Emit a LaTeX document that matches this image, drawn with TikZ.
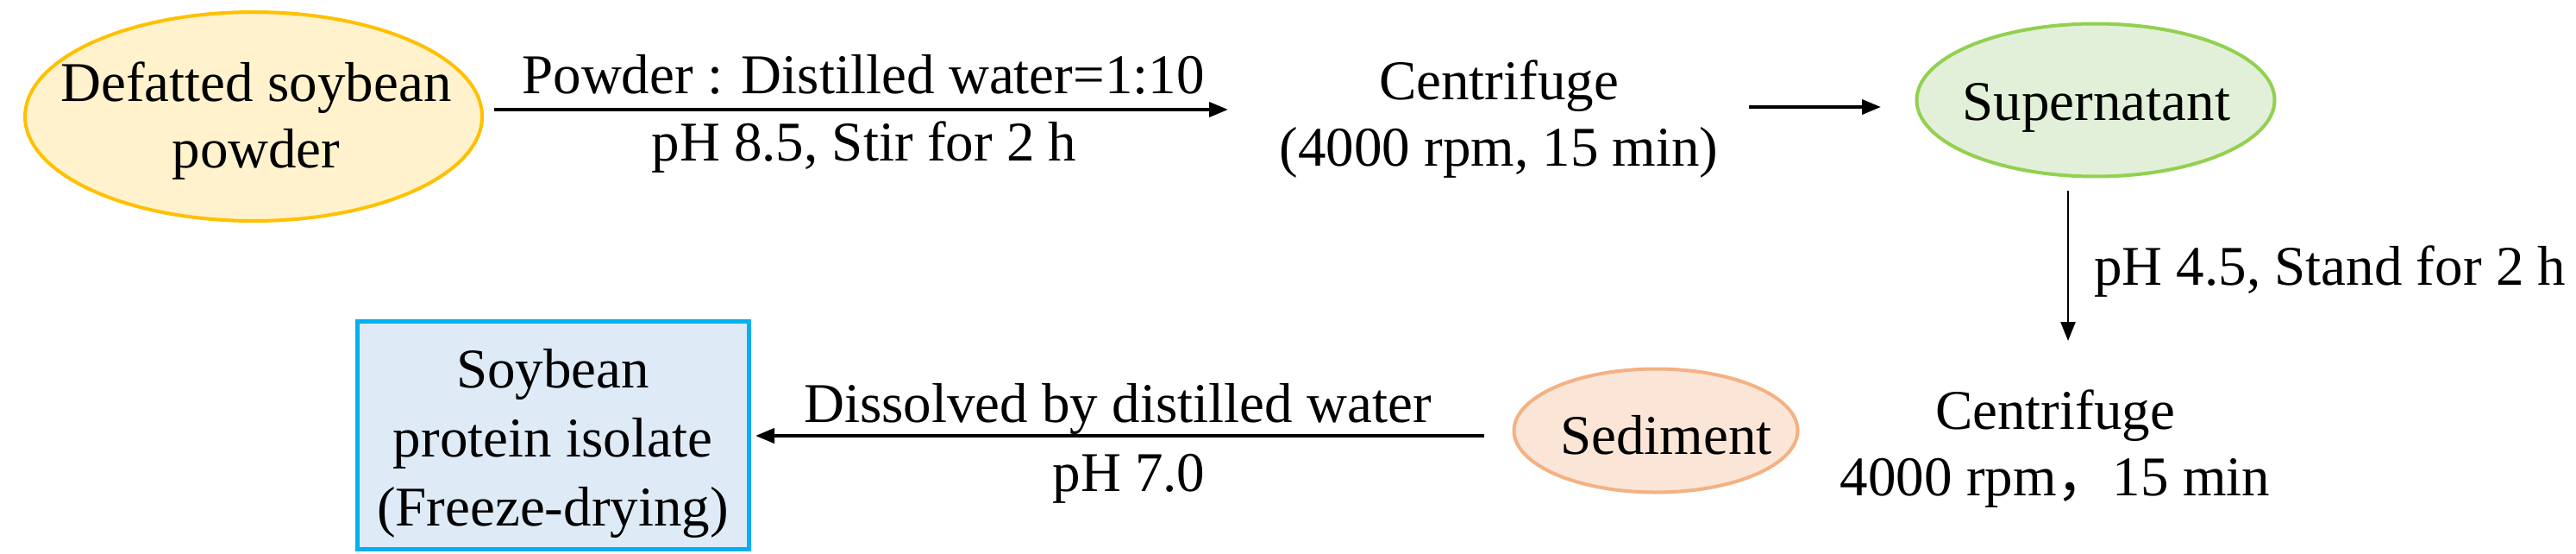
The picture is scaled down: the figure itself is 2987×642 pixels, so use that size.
\documentclass[tikz,border=0pt]{standalone}
\usepackage{fontspec}
\setmainfont{Liberation Serif}
\newfontfamily\cjkfont{Noto Sans CJK SC}
\usetikzlibrary{shapes.geometric,arrows.meta}
\definecolor{yfill}{HTML}{FFF2CC}
\definecolor{ydraw}{HTML}{FFC000}
\definecolor{gfill}{HTML}{E2F0D9}
\definecolor{gdraw}{HTML}{92D050}
\definecolor{ofill}{HTML}{FBE5D6}
\definecolor{odraw}{HTML}{F4B183}
\definecolor{bfill}{HTML}{DEEBF7}
\definecolor{bdraw}{HTML}{00B0F0}
\tikzset{
  oval/.style={ellipse, line width=4pt, inner sep=0pt},
  plain/.style={align=center, inner sep=0pt},
  lbl/.style={anchor=base, inner sep=0pt},
  arr/.style={line width=4pt, -{Triangle[length=22pt,width=17pt]}},
  thinarr/.style={line width=2.5pt, -{Triangle[length=22pt,width=17pt]}}
}
\begin{document}
\begin{tikzpicture}[x=1pt,y=-1pt,font=\fontsize{65}{77}\selectfont]
\useasboundingbox (0,0) rectangle (2987,642);
% shapes
\node[oval, draw=ydraw, fill=yfill, minimum width=530pt, minimum height=242pt] (def) at (294,135) {};
\node[plain] (deft) at (297,140) {Defatted soybean\\powder};
\node[plain] (cf1) at (1738,138) {Centrifuge\\(4000 rpm, 15 min)};
\node[oval, draw=gdraw, fill=gfill, minimum width=415pt, minimum height=177pt] (sup) at (2430,116) {};
\node[lbl] (supt) at (2431,139) {Supernatant};
\node[plain] (cf2) at (2383,520) {Centrifuge\\4000 rpm{\cjkfont ，}15 min};
\node[oval, draw=odraw, fill=ofill, minimum width=329pt, minimum height=143pt] (sed) at (1920,499) {};
\node[lbl] (sedt) at (1932,526) {Sediment};
\node[draw=bdraw, fill=bfill, line width=5pt, minimum width=454pt, minimum height=264pt, inner sep=0pt] (spi) at (641,504) {};
\node[plain, font=\fontsize{65}{80}\selectfont] (spit) at (641,514) {Soybean\\protein isolate\\(Freeze-drying)};
% connector end points
\coordinate (a1s) at (573,127);
\coordinate (a1e) at (1424,127);
\coordinate (a2s) at (2028,124);
\coordinate (a2e) at (2181,124);
\coordinate (a3s) at (2398,221);
\coordinate (a3e) at (2398,395);
\coordinate (a4s) at (1721,505);
\coordinate (a4e) at (876,505);
% connectors
\draw[arr] (a1s) -- (a1e);
\draw[arr] (a2s) -- (a2e);
\draw[thinarr] (a3s) -- (a3e);
\draw[arr] (a4s) -- (a4e);
% labels
\node[lbl] (l1a) at (1001,108) {Powder : Distilled water=1:10};
\node[lbl] (l1b) at (1002,186) {pH 8.5, Stir for 2 h};
\node[lbl, anchor=base west] (l3) at (2428,330) {pH 4.5, Stand for 2 h};
\node[lbl] (l4a) at (1296,489) {Dissolved by distilled water};
\node[lbl] (l4b) at (1309,569) {pH 7.0};
\end{tikzpicture}
\end{document}
